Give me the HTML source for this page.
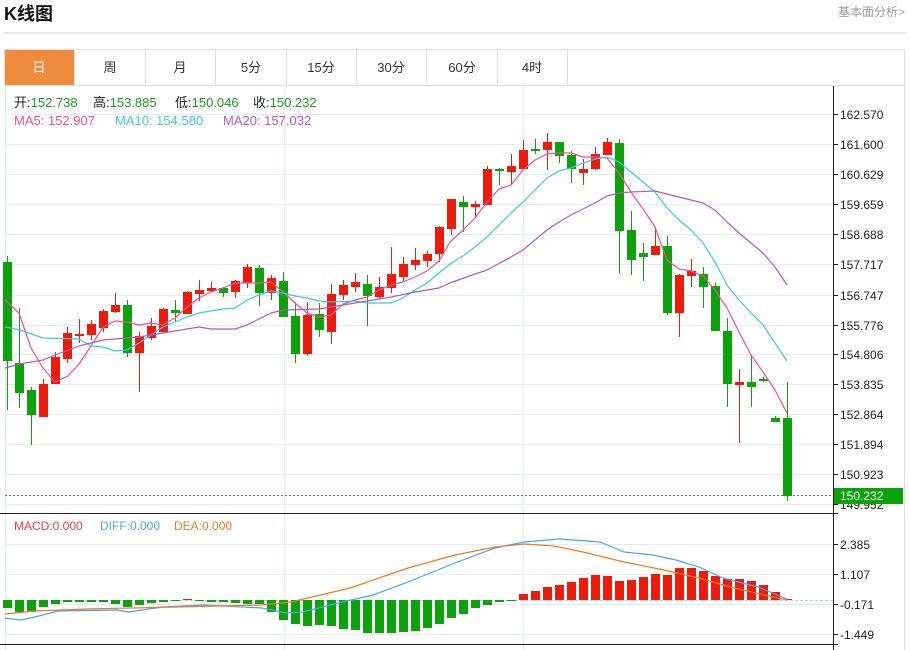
<!DOCTYPE html>
<html><head><meta charset="utf-8"><style>
body{margin:0;background:#fff;width:909px;height:650px;overflow:hidden;font-family:"Liberation Sans","Noto Sans CJK SC",sans-serif}
</style></head><body>
<svg width="909" height="650" xmlns="http://www.w3.org/2000/svg" style="position:absolute;left:0;top:0" font-family="Liberation Sans, Noto Sans CJK SC, sans-serif">
<text x="4" y="20" font-size="18" font-weight="bold" fill="#111">K线图</text>
<text x="905" y="16" font-size="12" fill="#999" text-anchor="end">基本面分析&gt;</text>
<rect x="3" y="32.5" width="903" height="1" fill="#d4d4d4"/>
<rect x="4.5" y="49.5" width="900" height="36" fill="#fff" stroke="#ddd"/>
<rect x="5" y="50" width="69" height="35" fill="#f08a3c"/>
<g stroke="#ddd"><line x1="74.5" y1="50" x2="74.5" y2="85"/><line x1="145.5" y1="50" x2="145.5" y2="85"/><line x1="215.5" y1="50" x2="215.5" y2="85"/><line x1="286.5" y1="50" x2="286.5" y2="85"/><line x1="356.5" y1="50" x2="356.5" y2="85"/><line x1="426.5" y1="50" x2="426.5" y2="85"/><line x1="497.5" y1="50" x2="497.5" y2="85"/><line x1="567.5" y1="50" x2="567.5" y2="85"/></g>
<g font-size="13" text-anchor="middle" fill="#333"><text x="39" y="72" fill="#fff">日</text><text x="110" y="72">周</text><text x="180" y="72">月</text><text x="251" y="72">5分</text><text x="321" y="72">15分</text><text x="391" y="72">30分</text><text x="462" y="72">60分</text><text x="532" y="72">4时</text></g>
<line x1="904.5" y1="86" x2="904.5" y2="650" stroke="#ddd"/>
<line x1="5.5" y1="86" x2="5.5" y2="650" stroke="#dde6ee"/>
<g stroke="#e3ebf2"><line x1="284.5" y1="86" x2="284.5" y2="650"/><line x1="523.5" y1="86" x2="523.5" y2="650"/>
<line x1="5" y1="114.5" x2="833" y2="114.5"/><line x1="5" y1="144.5" x2="833" y2="144.5"/><line x1="5" y1="174.5" x2="833" y2="174.5"/><line x1="5" y1="204.5" x2="833" y2="204.5"/><line x1="5" y1="234.5" x2="833" y2="234.5"/><line x1="5" y1="264.5" x2="833" y2="264.5"/><line x1="5" y1="295.5" x2="833" y2="295.5"/><line x1="5" y1="325.5" x2="833" y2="325.5"/><line x1="5" y1="354.5" x2="833" y2="354.5"/><line x1="5" y1="384.5" x2="833" y2="384.5"/><line x1="5" y1="414.5" x2="833" y2="414.5"/><line x1="5" y1="444.5" x2="833" y2="444.5"/><line x1="5" y1="474.5" x2="833" y2="474.5"/><line x1="5" y1="504.5" x2="833" y2="504.5"/>
<line x1="5" y1="544.5" x2="833" y2="544.5"/><line x1="5" y1="574.5" x2="833" y2="574.5"/><line x1="5" y1="604.5" x2="833" y2="604.5"/><line x1="5" y1="634.5" x2="833" y2="634.5"/></g>
<line x1="833.5" y1="86" x2="833.5" y2="650" stroke="#222"/>
<line x1="0" y1="513.5" x2="838" y2="513.5" stroke="#222"/>
<line x1="0" y1="644.5" x2="838" y2="644.5" stroke="#222"/>
<g stroke="#222"><line x1="834" y1="114.5" x2="838" y2="114.5"/><line x1="834" y1="144.5" x2="838" y2="144.5"/><line x1="834" y1="174.5" x2="838" y2="174.5"/><line x1="834" y1="204.5" x2="838" y2="204.5"/><line x1="834" y1="234.5" x2="838" y2="234.5"/><line x1="834" y1="264.5" x2="838" y2="264.5"/><line x1="834" y1="295.5" x2="838" y2="295.5"/><line x1="834" y1="325.5" x2="838" y2="325.5"/><line x1="834" y1="354.5" x2="838" y2="354.5"/><line x1="834" y1="384.5" x2="838" y2="384.5"/><line x1="834" y1="414.5" x2="838" y2="414.5"/><line x1="834" y1="444.5" x2="838" y2="444.5"/><line x1="834" y1="474.5" x2="838" y2="474.5"/><line x1="834" y1="504.5" x2="838" y2="504.5"/><line x1="834" y1="544.5" x2="838" y2="544.5"/><line x1="834" y1="574.5" x2="838" y2="574.5"/><line x1="834" y1="604.5" x2="838" y2="604.5"/><line x1="834" y1="634.5" x2="838" y2="634.5"/></g>
<g font-size="12" fill="#222"><text x="840" y="119">162.570</text><text x="840" y="149">161.600</text><text x="840" y="179">160.629</text><text x="840" y="209">159.659</text><text x="840" y="239">158.688</text><text x="840" y="269">157.717</text><text x="840" y="300">156.747</text><text x="840" y="330">155.776</text><text x="840" y="359">154.806</text><text x="840" y="389">153.835</text><text x="840" y="419">152.864</text><text x="840" y="449">151.894</text><text x="840" y="479">150.923</text><text x="840" y="509">149.952</text>
<text x="840" y="549">2.385</text><text x="840" y="579">1.107</text><text x="840" y="609">-0.171</text><text x="840" y="639">-1.449</text></g>
<g font-size="13">
<text x="14" y="107" fill="#222">开:<tspan fill="#1a9e1a">152.738</tspan></text>
<text x="93" y="107" fill="#222">高:<tspan fill="#1a9e1a">153.885</tspan></text>
<text x="175" y="107" fill="#222">低:<tspan fill="#1a9e1a">150.046</tspan></text>
<text x="253" y="107" fill="#222">收:<tspan fill="#1a9e1a">150.232</tspan></text>
<text x="14" y="125" fill="#f0508a">MA5: 152.907</text>
<text x="115" y="125" fill="#3cc8e0">MA10: 154.580</text>
<text x="223" y="125" fill="#b358c8">MA20: 157.032</text>
</g>
<g font-size="12">
<text x="14" y="530" fill="#f03c3c">MACD:0.000</text>
<text x="100" y="530" fill="#4aa3f0">DIFF:0.000</text>
<text x="174" y="530" fill="#f07a22">DEA:0.000</text>
</g>
<line x1="5" y1="495.5" x2="833" y2="495.5" stroke="#11b011" stroke-dasharray="2,2"/>
<rect x="834" y="488" width="69" height="16" fill="#0aa30a"/>
<text x="840" y="500" font-size="12" fill="#fff">150.232</text>
<g fill="#0aa30a">
<rect x="7" y="256" width="1" height="154"/><rect x="3" y="262" width="9" height="99"/>
<rect x="19" y="308" width="1" height="100"/><rect x="15" y="363" width="9" height="30"/>
<rect x="31" y="387" width="1" height="58"/><rect x="27" y="390" width="9" height="25"/>
<rect x="127" y="300" width="1" height="57"/><rect x="123" y="305" width="9" height="48"/>
<rect x="175" y="300" width="1" height="22"/><rect x="171" y="310" width="9" height="3"/>
<rect x="223" y="287" width="1" height="10"/><rect x="219" y="288" width="9" height="5"/>
<rect x="259" y="265" width="1" height="41"/><rect x="255" y="268" width="9" height="25"/>
<rect x="283" y="272" width="1" height="45"/><rect x="279" y="281" width="9" height="36"/>
<rect x="295" y="302" width="1" height="61"/><rect x="291" y="316" width="9" height="38"/>
<rect x="319" y="303" width="1" height="34"/><rect x="315" y="314" width="9" height="16"/>
<rect x="367" y="275" width="1" height="51"/><rect x="363" y="284" width="9" height="12"/>
<rect x="463" y="196" width="1" height="36"/><rect x="459" y="202" width="9" height="5"/>
<rect x="499" y="168" width="1" height="17"/><rect x="495" y="169" width="9" height="2"/>
<rect x="535" y="139" width="1" height="15"/><rect x="531" y="149" width="9" height="2"/>
<rect x="559" y="142" width="1" height="21"/><rect x="555" y="142" width="9" height="14"/>
<rect x="571" y="151" width="1" height="32"/><rect x="567" y="155" width="9" height="14"/>
<rect x="619" y="139" width="1" height="134"/><rect x="615" y="143" width="9" height="88"/>
<rect x="631" y="211" width="1" height="64"/><rect x="627" y="230" width="9" height="30"/>
<rect x="643" y="243" width="1" height="38"/><rect x="639" y="253" width="9" height="4"/>
<rect x="667" y="236" width="1" height="79"/><rect x="663" y="246" width="9" height="67"/>
<rect x="703" y="267" width="1" height="41"/><rect x="699" y="274" width="9" height="13"/>
<rect x="715" y="283" width="1" height="48"/><rect x="711" y="286" width="9" height="45"/>
<rect x="727" y="318" width="1" height="89"/><rect x="723" y="331" width="9" height="53"/>
<rect x="751" y="356" width="1" height="51"/><rect x="747" y="382" width="9" height="5"/>
<rect x="763" y="377" width="1" height="5"/><rect x="759" y="379" width="9" height="2"/>
<rect x="775" y="416" width="1" height="6"/><rect x="771" y="418" width="9" height="4"/>
<rect x="787" y="382" width="1" height="119"/><rect x="783" y="418" width="9" height="78"/>
</g>
<g fill="#f01a0a">
<rect x="43" y="379" width="1" height="38"/><rect x="39" y="384" width="9" height="33"/>
<rect x="55" y="352" width="1" height="32"/><rect x="51" y="357" width="9" height="27"/>
<rect x="67" y="327" width="1" height="36"/><rect x="63" y="333" width="9" height="26"/>
<rect x="79" y="319" width="1" height="24"/><rect x="75" y="334" width="9" height="2"/>
<rect x="91" y="320" width="1" height="20"/><rect x="87" y="324" width="9" height="11"/>
<rect x="103" y="309" width="1" height="23"/><rect x="99" y="311" width="9" height="17"/>
<rect x="115" y="293" width="1" height="20"/><rect x="111" y="305" width="9" height="7"/>
<rect x="139" y="332" width="1" height="60"/><rect x="135" y="336" width="9" height="17"/>
<rect x="151" y="318" width="1" height="22"/><rect x="147" y="326" width="9" height="12"/>
<rect x="163" y="308" width="1" height="24"/><rect x="159" y="309" width="9" height="23"/>
<rect x="187" y="291" width="1" height="23"/><rect x="183" y="292" width="9" height="22"/>
<rect x="199" y="280" width="1" height="21"/><rect x="195" y="290" width="9" height="4"/>
<rect x="211" y="282" width="1" height="10"/><rect x="207" y="288" width="9" height="3"/>
<rect x="235" y="280" width="1" height="18"/><rect x="231" y="281" width="9" height="11"/>
<rect x="247" y="264" width="1" height="24"/><rect x="243" y="267" width="9" height="16"/>
<rect x="271" y="275" width="1" height="25"/><rect x="267" y="278" width="9" height="15"/>
<rect x="307" y="302" width="1" height="53"/><rect x="303" y="315" width="9" height="39"/>
<rect x="331" y="284" width="1" height="60"/><rect x="327" y="294" width="9" height="38"/>
<rect x="343" y="280" width="1" height="20"/><rect x="339" y="285" width="9" height="10"/>
<rect x="355" y="273" width="1" height="19"/><rect x="351" y="282" width="9" height="5"/>
<rect x="379" y="277" width="1" height="22"/><rect x="375" y="287" width="9" height="10"/>
<rect x="391" y="247" width="1" height="46"/><rect x="387" y="274" width="9" height="14"/>
<rect x="403" y="257" width="1" height="24"/><rect x="399" y="264" width="9" height="13"/>
<rect x="415" y="248" width="1" height="22"/><rect x="411" y="260" width="9" height="5"/>
<rect x="427" y="251" width="1" height="16"/><rect x="423" y="254" width="9" height="7"/>
<rect x="439" y="226" width="1" height="36"/><rect x="435" y="227" width="9" height="27"/>
<rect x="451" y="199" width="1" height="36"/><rect x="447" y="199" width="9" height="30"/>
<rect x="475" y="201" width="1" height="17"/><rect x="471" y="204" width="9" height="3"/>
<rect x="487" y="166" width="1" height="39"/><rect x="483" y="169" width="9" height="36"/>
<rect x="511" y="154" width="1" height="31"/><rect x="507" y="166" width="9" height="6"/>
<rect x="523" y="140" width="1" height="29"/><rect x="519" y="150" width="9" height="19"/>
<rect x="547" y="133" width="1" height="37"/><rect x="543" y="142" width="9" height="8"/>
<rect x="583" y="159" width="1" height="26"/><rect x="579" y="169" width="9" height="4"/>
<rect x="595" y="147" width="1" height="23"/><rect x="591" y="154" width="9" height="15"/>
<rect x="607" y="138" width="1" height="17"/><rect x="603" y="142" width="9" height="13"/>
<rect x="655" y="227" width="1" height="28"/><rect x="651" y="246" width="9" height="9"/>
<rect x="679" y="274" width="1" height="63"/><rect x="675" y="275" width="9" height="38"/>
<rect x="691" y="259" width="1" height="28"/><rect x="687" y="271" width="9" height="5"/>
<rect x="739" y="369" width="1" height="74"/><rect x="735" y="382" width="9" height="3"/>
</g>
<g fill="none" stroke-width="1.2" stroke-linejoin="round">
<polyline stroke="#f0508a" points="5,300 19,313 31,348 43,368 55,382 68,376 79,364 91,346 103,327 115,321 127,322 139,325 151,323 163,325 175,318 187,307 199,298 211,292 223,288 235,283 247,283 259,283 271,282 283,292 295,303 307,313 319,317 331,315 343,304 355,300 367,297 379,290 391,285 403,282 415,277 427,271 439,261 450,242 463,230 475,218 487,202 499,189 511,185 523,170 535,160 547,154 559,153 571,153 583,157 595,157 607,158 619,173 631,192 643,209 655,227 667,260 679,269 691,271 703,276 715,290 727,308 739,332 751,355 763,372 775,390 787,413"/>
<polyline stroke="#3cc8e0" points="5,327 20,330 43,338 79,339 91,346 103,347 115,351 127,350 139,343 151,335 163,327 175,322 187,317 199,313 211,311 223,309 235,308 247,300 259,295 271,291 283,293 295,296 307,298 319,301 331,302 355,301 367,303 391,303 403,298 415,290 427,283 439,273 450,264 463,256 475,247 487,237 499,225 511,213 523,202 535,190 547,178 559,171 571,168 583,163 595,159 607,157 619,162 631,172 643,182 655,192 667,208 679,220 691,230 703,243 715,262 727,285 739,300 751,313 763,325 775,343 787,361"/>
<polyline stroke="#b358c8" points="5,368 20,364 43,360 55,355 79,346 103,340 115,339 139,337 163,333 199,327 211,329 235,329 247,325 259,319 271,313 283,310 319,309 355,303 391,297 415,292 439,288 450,283 475,274 487,270 511,257 523,250 535,240 547,230 559,222 571,215 583,209 595,203 607,196 619,193 631,192 655,191 667,194 679,197 691,200 703,203 715,210 727,222 739,233 751,243 763,253 775,267 787,285"/>
</g>
<line x1="5" y1="600.5" x2="833" y2="600.5" stroke="#a8d8e8" stroke-dasharray="3,2"/>
<g fill="#0aa30a">
<rect x="3" y="600" width="9" height="8"/><rect x="15" y="600" width="9" height="12"/><rect x="27" y="600" width="9" height="12"/><rect x="39" y="600" width="9" height="7"/><rect x="51" y="600" width="9" height="4"/><rect x="63" y="600" width="9" height="2"/><rect x="75" y="600" width="9" height="2"/><rect x="87" y="600" width="9" height="2"/><rect x="99" y="600" width="9" height="2"/><rect x="111" y="600" width="9" height="4"/><rect x="123" y="600" width="9" height="7"/><rect x="135" y="600" width="9" height="5"/><rect x="147" y="600" width="9" height="3"/><rect x="159" y="600" width="9" height="2"/><rect x="171" y="600" width="9" height="1"/><rect x="195" y="600" width="9" height="1"/><rect x="207" y="600" width="9" height="2"/><rect x="219" y="600" width="9" height="2"/><rect x="231" y="600" width="9" height="3"/><rect x="243" y="600" width="9" height="4"/><rect x="255" y="600" width="9" height="4"/><rect x="267" y="600" width="9" height="12"/><rect x="279" y="600" width="9" height="20"/><rect x="291" y="600" width="9" height="24"/><rect x="303" y="600" width="9" height="26"/><rect x="315" y="600" width="9" height="25"/><rect x="327" y="600" width="9" height="26"/><rect x="339" y="600" width="9" height="29"/><rect x="351" y="600" width="9" height="30"/><rect x="363" y="600" width="9" height="33"/><rect x="375" y="600" width="9" height="33"/><rect x="387" y="600" width="9" height="33"/><rect x="399" y="600" width="9" height="32"/><rect x="411" y="600" width="9" height="31"/><rect x="423" y="600" width="9" height="28"/><rect x="435" y="600" width="9" height="24"/><rect x="447" y="600" width="9" height="18"/><rect x="459" y="600" width="9" height="14"/><rect x="471" y="600" width="9" height="8"/><rect x="483" y="600" width="9" height="5"/><rect x="495" y="600" width="9" height="2"/><rect x="507" y="600" width="9" height="1"/>
</g>
<g fill="#f01a0a">
<rect x="183" y="599" width="9" height="1"/>
<rect x="519" y="594" width="9" height="6"/><rect x="531" y="591" width="9" height="9"/><rect x="543" y="587" width="9" height="13"/><rect x="555" y="585" width="9" height="15"/><rect x="567" y="582" width="9" height="18"/><rect x="579" y="578" width="9" height="22"/><rect x="591" y="575" width="9" height="25"/><rect x="603" y="576" width="9" height="24"/><rect x="615" y="581" width="9" height="19"/><rect x="627" y="580" width="9" height="20"/><rect x="639" y="577" width="9" height="23"/><rect x="651" y="574" width="9" height="26"/><rect x="663" y="575" width="9" height="25"/><rect x="675" y="568" width="9" height="32"/><rect x="687" y="568" width="9" height="32"/><rect x="699" y="571" width="9" height="29"/><rect x="711" y="576" width="9" height="24"/><rect x="723" y="579" width="9" height="21"/><rect x="735" y="579" width="9" height="21"/><rect x="747" y="581" width="9" height="19"/><rect x="759" y="585" width="9" height="15"/><rect x="771" y="592" width="9" height="8"/><rect x="783" y="599" width="9" height="1"/>
</g>
<g fill="none" stroke-width="1.2">
<polyline stroke="#4aa3f0" points="5,618 20,620 35,617 58,611 117,610 128,612 163,607 204,605 262,608 286,613 303,612 338,603 373,595 408,582 455,563 495,548 524,542 559,539 600,542 624,552 653,555 676,560 699,567 723,578 758,587 787,599"/>
<polyline stroke="#f07a22" points="5,614 35,611 87,609 175,607 262,605 291,602 350,588 408,568 455,555 495,547 524,544 554,546 583,552 624,562 664,570 699,578 734,588 787,600"/>
</g>
</svg>
</body></html>
